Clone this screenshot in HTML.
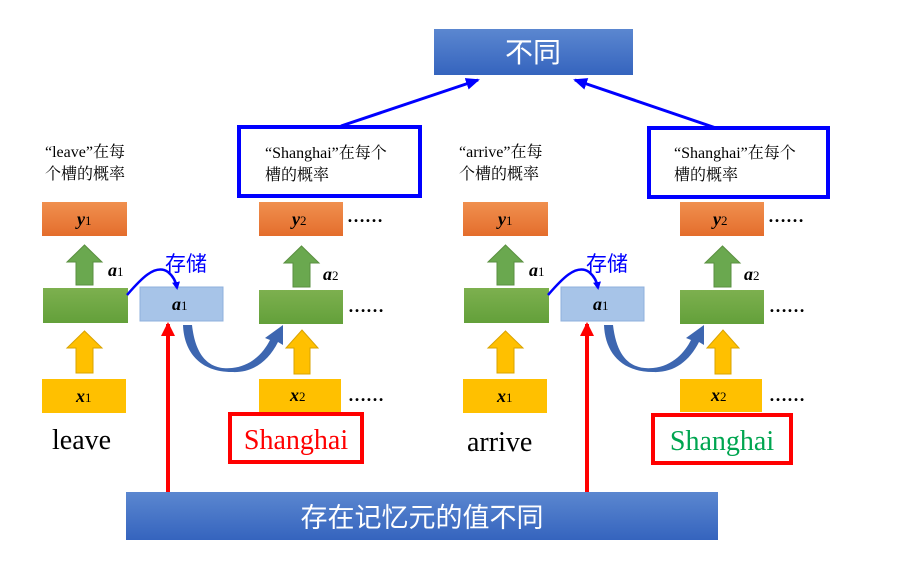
<!DOCTYPE html>
<html><head><meta charset="utf-8"><style>
body{margin:0;background:#fff}
svg text{font-family:"Liberation Serif","Noto Serif CJK SC",serif}
.cj{font-family:"Liberation Serif","Noto Sans CJK SC",sans-serif}
</style></head><body>
<svg width="903" height="582" viewBox="0 0 903 582" xmlns="http://www.w3.org/2000/svg">
<defs>
<linearGradient id="bg" x1="0" y1="0" x2="0" y2="1"><stop offset="0" stop-color="#5b87d0"/><stop offset="1" stop-color="#3564be"/></linearGradient>
<linearGradient id="og" x1="0" y1="0" x2="0" y2="1"><stop offset="0" stop-color="#f0904f"/><stop offset="1" stop-color="#e46d2c"/></linearGradient>
<linearGradient id="gg" x1="0" y1="0" x2="0" y2="1"><stop offset="0" stop-color="#7db04f"/><stop offset="1" stop-color="#63a03a"/></linearGradient>
<marker id="ab" markerWidth="8" markerHeight="8" refX="6" refY="4" orient="auto" markerUnits="userSpaceOnUse"><path d="M0,0 L8,4 L0,8 z" fill="#0000ff"/></marker>
<marker id="ab2" markerWidth="14" markerHeight="12" refX="12" refY="6" orient="auto" markerUnits="userSpaceOnUse"><path d="M0,0 L14,6 L0,12 z" fill="#0000ff"/></marker>
<marker id="ar" markerWidth="14" markerHeight="14" refX="12" refY="7" orient="auto" markerUnits="userSpaceOnUse"><path d="M0,0 L14,7 L0,14 z" fill="#ff0000"/></marker>
</defs>
<g id="panel">
  <rect x="42" y="202" width="85" height="34" fill="url(#og)"/>
  <polygon points="67,262 76,262 76,285 93,285 93,262 102,262 84.5,245" fill="#6aa84f" stroke="#5a8f40"/>
  <rect x="43" y="288" width="85" height="35" fill="url(#gg)"/>
  <polygon points="67,348 76,348 76,373 93,373 93,348 102,348 84.5,331" fill="#ffc000" stroke="#d9a300"/>
  <rect x="42" y="379" width="84" height="34" fill="#ffc000"/>
  <rect x="140" y="287" width="83" height="34" fill="#a7c4e8" stroke="#8fb0dc"/>
  <rect x="259" y="202" width="84" height="34" fill="url(#og)"/>
  <polygon points="284,263 293,263 293,287 310,287 310,263 319,263 301.5,246" fill="#6aa84f" stroke="#5a8f40"/>
  <rect x="259" y="290" width="84" height="34" fill="url(#gg)"/>
  <polygon points="286,348 294,348 294,374 310,374 310,348 318,348 302,330" fill="#ffc000" stroke="#d9a300"/>
  <rect x="259" y="379" width="82" height="33" fill="#ffc000"/>
  <path d="M183,325 L192,325 C196,360 212,370 232,368 C252,366 264,352 270,340 L265,338 L283,325 L283,345 L278,342 C268,362 252,373 232,372 C200,372 184,352 183,325 Z" fill="#3d66b0"/>
  <path d="M127,295 C140,280 155,263 168,272 C173,276 176,282 177,288" fill="none" stroke="#0000ff" stroke-width="2.5" marker-end="url(#ab)"/>
  <text x="165" y="271" font-size="21" fill="#0000ff" class="cj">存储</text>
  <g font-size="18" font-weight="bold" font-style="italic">
    <text x="77" y="225">y<tspan font-size="13" font-style="normal" font-weight="normal">1</tspan></text>
    <text x="108" y="276">a<tspan font-size="13" font-style="normal" font-weight="normal">1</tspan></text>
    <text x="172" y="310">a<tspan font-size="13" font-style="normal" font-weight="normal">1</tspan></text>
    <text x="76" y="402">x<tspan font-size="13" font-style="normal" font-weight="normal">1</tspan></text>
    <text x="292" y="225">y<tspan font-size="13" font-style="normal" font-weight="normal">2</tspan></text>
    <text x="323" y="280">a<tspan font-size="13" font-style="normal" font-weight="normal">2</tspan></text>
    <text x="290" y="401">x<tspan font-size="13" font-style="normal" font-weight="normal">2</tspan></text>
  </g>
  <g font-size="18" font-weight="bold">
    <text x="347" y="222">……</text><text x="348" y="312">……</text><text x="348" y="401">……</text>
  </g>
</g>
<use href="#panel" x="421" y="0"/>
<text x="52" y="449" font-size="28">leave</text>
<text x="467" y="451" font-size="28">arrive</text>
<rect x="230" y="414" width="132" height="48" fill="#fff" stroke="#ff0000" stroke-width="4"/>
<text x="296" y="449" font-size="28" fill="#ff0000" text-anchor="middle">Shanghai</text>
<rect x="653" y="415" width="138" height="48" fill="#fff" stroke="#ff0000" stroke-width="4"/>
<text x="722" y="450" font-size="28" fill="#00a550" text-anchor="middle">Shanghai</text>
<g font-size="16" class="cj">
<text x="45" y="157">“leave”在每</text><text x="45" y="179">个槽的概率</text>
<text x="459" y="157">“arrive”在每</text><text x="459" y="179">个槽的概率</text>
</g>
<rect x="239" y="127" width="181" height="69" fill="#fff" stroke="#0000ff" stroke-width="4"/>
<rect x="649" y="128" width="179" height="69" fill="#fff" stroke="#0000ff" stroke-width="4"/>
<g font-size="16" class="cj">
<text x="265" y="158">“Shanghai”在每个</text><text x="265" y="180">槽的概率</text>
<text x="674" y="158">“Shanghai”在每个</text><text x="674" y="180">槽的概率</text>
</g>
<rect x="434" y="29" width="199" height="46" fill="url(#bg)"/>
<text x="533" y="62" font-size="28" fill="#fff" text-anchor="middle" class="cj">不同</text>
<line x1="341" y1="126" x2="478" y2="80" stroke="#0000ff" stroke-width="3" marker-end="url(#ab2)"/>
<line x1="716" y1="128" x2="575" y2="80" stroke="#0000ff" stroke-width="3" marker-end="url(#ab2)"/>
<line x1="168" y1="492" x2="168" y2="324" stroke="#ff0000" stroke-width="4" marker-end="url(#ar)"/>
<line x1="587" y1="492" x2="587" y2="324" stroke="#ff0000" stroke-width="4" marker-end="url(#ar)"/>
<rect x="126" y="492" width="592" height="48" fill="url(#bg)"/>
<text x="422" y="527" font-size="27" fill="#fff" text-anchor="middle" class="cj">存在记忆元的值不同</text>
</svg>
</body></html>
